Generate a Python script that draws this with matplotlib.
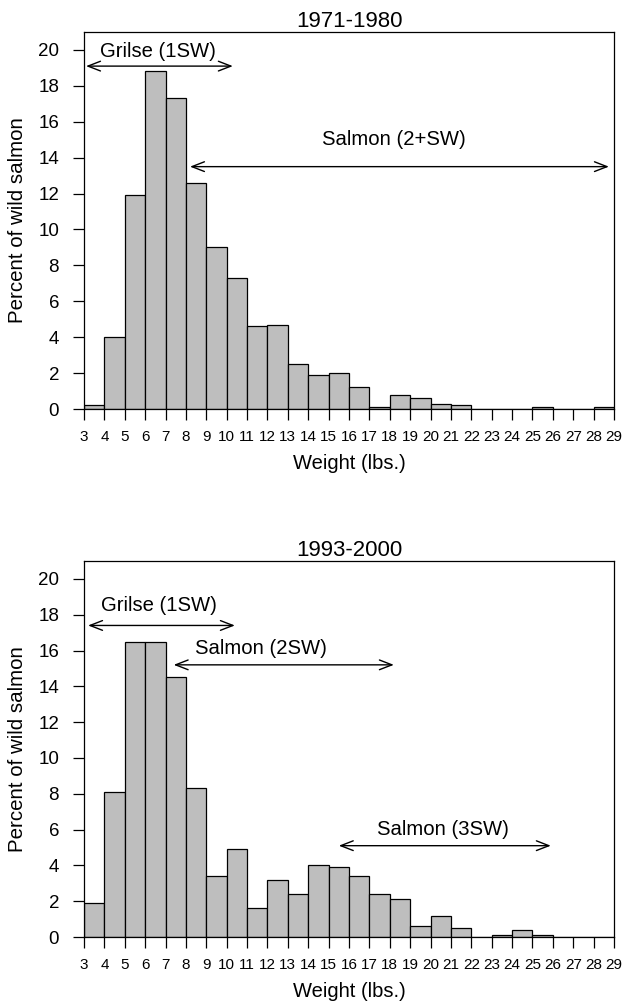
import matplotlib
matplotlib.use("Agg")
import matplotlib.pyplot as plt
import numpy as np

plt.rcParams['font.family'] = ['Liberation Sans', 'DejaVu Sans']

bin_edges = list(range(3, 30))
x_ticks = list(range(3, 30))
y_ticks = list(range(0, 21, 2))

title_top = "1971-1980"
pct_top = [0.2, 4.0, 11.9, 18.8, 17.3, 12.6, 9.0, 7.3, 4.6, 4.7, 2.5, 1.9, 2.0,
           1.2, 0.1, 0.8, 0.6, 0.3, 0.2, 0.0, 0.0, 0.0, 0.1, 0.0, 0.0, 0.1]

title_bot = "1993-2000"
pct_bot = [1.9, 8.1, 16.5, 16.5, 14.5, 8.3, 3.4, 4.9, 1.6, 3.2, 2.4, 4.0, 3.9,
           3.4, 2.4, 2.1, 0.6, 1.2, 0.5, 0.0, 0.1, 0.4, 0.1, 0.0, 0.0, 0.0]

# annotations: (label, text_x, text_y, arrow_x0, arrow_x1, arrow_y)
ann_top = [("Grilse (1SW)", 6.65, 19.9, 3.1, 10.3, 19.1),
           ("Salmon (2+SW)", 18.2, 15.0, 8.2, 28.75, 13.5)]
ann_bot = [("Grilse (1SW)", 6.7, 18.5, 3.2, 10.4, 17.4),
           ("Salmon (2SW)", 11.7, 16.1, 7.4, 18.2, 15.2),
           ("Salmon (3SW)", 20.6, 6.0, 15.5, 25.9, 5.1)]

W, H = 626, 1005
fig = plt.figure(figsize=(W/100, H/100), dpi=100)

def panel(rect, title, pct, anns):
    ax = fig.add_axes(rect)
    left = np.array(bin_edges[:-1])
    widths = np.diff(bin_edges)
    ax.bar(left, pct, width=widths, align='edge', color='#bebebe',
           edgecolor='black', linewidth=0.9, zorder=2)
    ax.set_xlim(3, 29)
    ax.set_ylim(0, 21)
    ax.set_xticks(x_ticks)
    ax.set_xticklabels([str(t) for t in x_ticks], fontsize=11)
    ax.set_yticks(y_ticks)
    ax.set_yticklabels([str(t) for t in y_ticks], fontsize=13.5)
    ax.tick_params(axis='both', direction='out', length=8, width=0.9, color='black')
    ax.tick_params(axis='x', pad=7)
    ax.tick_params(axis='y', pad=10)
    for s in ax.spines.values():
        s.set_linewidth(0.9)
    ax.set_title(title, fontsize=16, pad=3)
    ax.set_xlabel("Weight (lbs.)", fontsize=14.5, labelpad=7)
    ax.set_ylabel("Percent of wild salmon", fontsize=14.8, labelpad=8)
    for lab, tx, ty, x0, x1, ay in anns:
        ax.annotate("", xy=(x1, ay), xytext=(x0, ay),
                    arrowprops=dict(arrowstyle='<->,head_length=0.9,head_width=0.35',
                                    mutation_scale=10, lw=1.0, color='black',
                                    shrinkA=0, shrinkB=0), zorder=3)
        ax.text(tx, ty, lab, ha='center', va='center', fontsize=14.6, zorder=3)
    return ax

ax1 = panel([84/W, 1-409/H, 530/W, 377/H], title_top, pct_top, ann_top)
ax2 = panel([84/W, 1-937/H, 530/W, 376/H], title_bot, pct_bot, ann_bot)

fig.savefig("out.png", dpi=100)
